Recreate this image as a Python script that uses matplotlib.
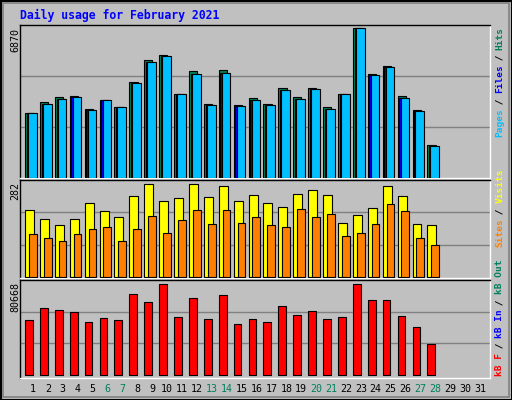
import numpy as np
import matplotlib
matplotlib.use("Agg")
import matplotlib.pyplot as plt
from matplotlib.patches import Rectangle

days = np.arange(1, 32)
n = 28
hits = [3000, 3466, 3699, 3746, 3140, 3575, 3233, 4399, 5425, 5658, 3839, 4881, 3373, 4927,
        3327, 3653, 3373, 4119, 3699, 4119, 3233, 3839, 6870, 4772, 5145, 3746, 3093, 1508]
files = [3000, 3373, 3606, 3699, 3093, 3575, 3233, 4352, 5331, 5611, 3839, 4772, 3326, 4819,
         3280, 3560, 3326, 4026, 3606, 4073, 3140, 3839, 6870, 4725, 5098, 3653, 3047, 1461]
pages = files
visits = [203, 175, 157, 175, 224, 200, 181, 245, 282, 230, 239, 282, 242, 276,
          230, 248, 224, 212, 251, 264, 248, 163, 190, 209, 276, 246, 160, 157]
sites = [132, 120, 111, 132, 145, 151, 111, 145, 187, 135, 172, 203, 160, 203,
         163, 184, 157, 151, 206, 181, 193, 126, 135, 160, 221, 200, 120, 96]
kbytes = [48870, 59470, 57700, 55940, 47100, 50640, 48870, 71830, 64770, 80668, 51520, 68300, 49750, 70950,
          45340, 49750, 47100, 61240, 53290, 56820, 49750, 51520, 80668, 66530, 66530, 52400, 42690, 27670]
weekends = [6, 7, 13, 14, 20, 21, 27, 28]

BG = "#C0C0C0"
C_HITS, C_FILES, C_PAGES = "#00805C", "#0000FF", "#00C0FF"
C_VISITS, C_SITES = "#FFFF00", "#FF8000"
C_KB, C_IN, C_OUT = "#FF0000", "#0000FF", "#00805C"
MONO = "DejaVu Sans Mono"

W, H = 512, 400
fig = plt.figure(figsize=(W / 100, H / 100), dpi=100, facecolor=BG)

def px_axes(x0, y0, x1, y1):
    ax = fig.add_axes([x0 / W, 1 - y1 / H, (x1 - x0) / W, (y1 - y0) / H])
    ax.set_facecolor(BG)
    ax.set_xlim(0.13, 31.67)
    ax.set_xticks([])
    ax.set_yticks([])
    for s in ["top", "left"]:
        ax.spines[s].set_color("black")
    for s in ["bottom", "right"]:
        ax.spines[s].set_color("white")
    for s in ax.spines.values():
        s.set_linewidth(1)
    return ax

x = np.arange(1, n + 1)
kw = dict(align="edge", edgecolor="black", linewidth=0.8, zorder=3)

ax1 = px_axes(20, 25, 490, 178)
ax1.set_ylim(0, 7010)
for f in (1 / 3, 2 / 3):
    ax1.axhline(7010 * f, color="#808080", lw=1, zorder=1)
ax1.bar(x - 0.53, hits, 0.55, color=C_HITS, **kw)
ax1.bar(x - 0.42, files, 0.55, color=C_FILES, **kw)
ax1.bar(x - 0.33, pages, 0.58, color=C_PAGES, **kw)

ax2 = px_axes(20, 180, 490, 278)
ax2.set_ylim(-3, 295)
for f in (1 / 3, 2 / 3):
    ax2.axhline(295 * f, color="#808080", lw=1, zorder=1)
ax2.bar(x - 0.53, visits, 0.6, color=C_VISITS, **kw)
ax2.bar(x - 0.27, sites, 0.52, color=C_SITES, **kw)

ax3 = px_axes(20, 280, 490, 378)
ax3.set_ylim(-2800, 84400)
for f in (1 / 3, 2 / 3):
    ax3.axhline(84400 * f, color="#808080", lw=1, zorder=1)
ax3.bar(x - 0.53, kbytes, 0.52, color=C_KB, **kw)

# day labels
for d in days:
    fig.text((33 + (d - 1) * 14.9) / W, 1 - 389 / H, str(d), ha="center", va="center",
             family=MONO, fontsize=7.2, color=C_HITS if d in weekends else "black")

# max labels
for label, y in [("6870", 28), ("282", 182), ("80668", 282)]:
    fig.text(15 / W, 1 - y / H, label, rotation=90, ha="center", va="top",
             family=MONO, fontsize=7.2, color="black")

fig.text(20 / W, 1 - 15 / H, "Daily usage for February 2021", ha="left", va="center",
         family=MONO, fontsize=8.3, weight="bold", color="#0000FF")

# right-hand legends, read bottom to top
CH = 5.45
def legend(parts, y_bottom):
    y = y_bottom
    for txt, col in parts:
        fig.text(500 / W, 1 - y / H, txt, rotation=90, ha="center", va="bottom",
                 family=MONO, fontsize=6.8, weight="bold", color=col)
        y -= len(txt) * CH

legend([("Pages", C_PAGES), (" / ", "black"), ("Files", C_FILES), (" / ", "black"), ("Hits", C_HITS)], 137)
legend([("Sites", C_SITES), (" / ", "black"), ("Visits", C_VISITS)], 247)
legend([("kB F", C_KB), (" / ", "black"), ("kB In", C_IN), (" / ", "black"), ("kB Out", C_OUT)], 376)

# outer bevel frame
fig.patches.append(Rectangle((0.5 / W, 0.5 / H), 1 - 1 / W, 1 - 1 / H, transform=fig.transFigure,
                             fill=False, edgecolor="black", lw=1.5))
fig.patches.append(Rectangle((3 / W, 3 / H), 1 - 6 / W, 1 - 6 / H, transform=fig.transFigure,
                             fill=False, edgecolor="#808080", lw=1.2))

fig.savefig("out.png", dpi=100, facecolor=BG)
